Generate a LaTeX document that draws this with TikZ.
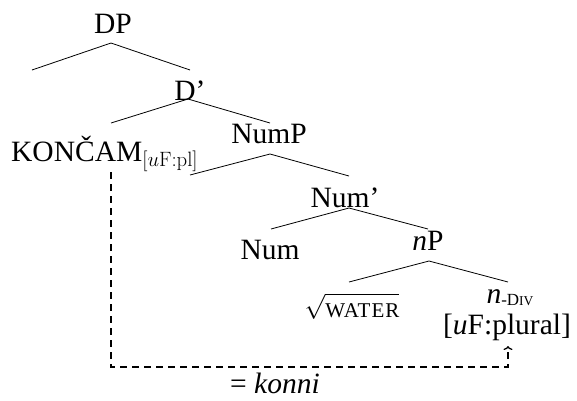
\documentclass[tikz,border=0pt]{standalone}
\usepackage[no-math]{fontspec}
\setmainfont{Liberation Serif}
\usetikzlibrary{arrows.meta}
% small capitals set from reduced capitals
\newcommand{\fakesc}[2]{{\fontsize{#1}{#1}\selectfont #2}}
\begin{document}
\begin{tikzpicture}[x=1pt,y=-1pt,
  lbl/.style={anchor=base,inner sep=0pt,font=\fontsize{29.5}{35}\selectfont},
  branch/.style={line width=0.8pt},
  agree/.style={line width=1.6pt,dash pattern=on 7pt off 5pt,
    -{To[length=4pt,width=9pt,line width=1.3pt]}}]
\useasboundingbox (0,0) rectangle (577,400);

% labels
\node[lbl] (dp)   at (113,33)  {DP};
\node[lbl] (dbar) at (190,100) {D’};
\node[lbl,anchor=base west] (kon) at (11,161)
  {KONČAM\raisebox{-5pt}{\fontsize{22.5}{22}\selectfont$[u\mathrm{F{:}pl}]$}};
\node[lbl] (nump) at (269,143) {NumP};
\node[lbl] (numbar) at (345,207) {Num’};
\node[lbl] (num)  at (270,259) {Num};
\node[lbl] (np)   at (428,250) {\textit{n}P};
\node[lbl] (root) at (352,317)
  {$\sqrt{\rule{0pt}{19pt}\mbox{\fakesc{21}{\addfontfeature{LetterSpace=5}WATER}}}$};
\node[lbl] (ndiv) at (510,303)
  {\textit{n}\raisebox{-2.5pt}{\fakesc{17}{-D\fakesc{13.5}{IV}}}};
\node[lbl] (feat) at (507,334) {[\textit{u}F:plural]};
\node[lbl] (gloss) at (275,393) {= \textit{konni}};

% branch points
\coordinate (dpA) at (111,43);
\coordinate (dpL) at (32,70);
\coordinate (dpR) at (190,70);
\coordinate (dbA) at (188,99);
\coordinate (dbL) at (111,123);
\coordinate (dbR) at (270,123);
\coordinate (npA) at (270,154);
\coordinate (npL) at (190,175);
\coordinate (npR) at (349,176);
\coordinate (nbA) at (349,208);
\coordinate (nbL) at (271,229);
\coordinate (nbR) at (428,229);
\coordinate (nA)  at (429,261);
\coordinate (nL)  at (349,282);
\coordinate (nR)  at (508,282);

\draw[branch] (dpL) -- (dpA) -- (dpR);
\draw[branch] (dbL) -- (dbA) -- (dbR);
\draw[branch] (npL) -- (npA) -- (npR);
\draw[branch] (nbL) -- (nbA) -- (nbR);
\draw[branch] (nL) -- (nA) -- (nR);

% agreement path
\coordinate (konFoot) at (111,172);
\coordinate (corner) at (508,367);
\coordinate (tip) at (508,346);
\draw[agree] (konFoot) |- (corner) -- (tip);
\end{tikzpicture}
\end{document}
